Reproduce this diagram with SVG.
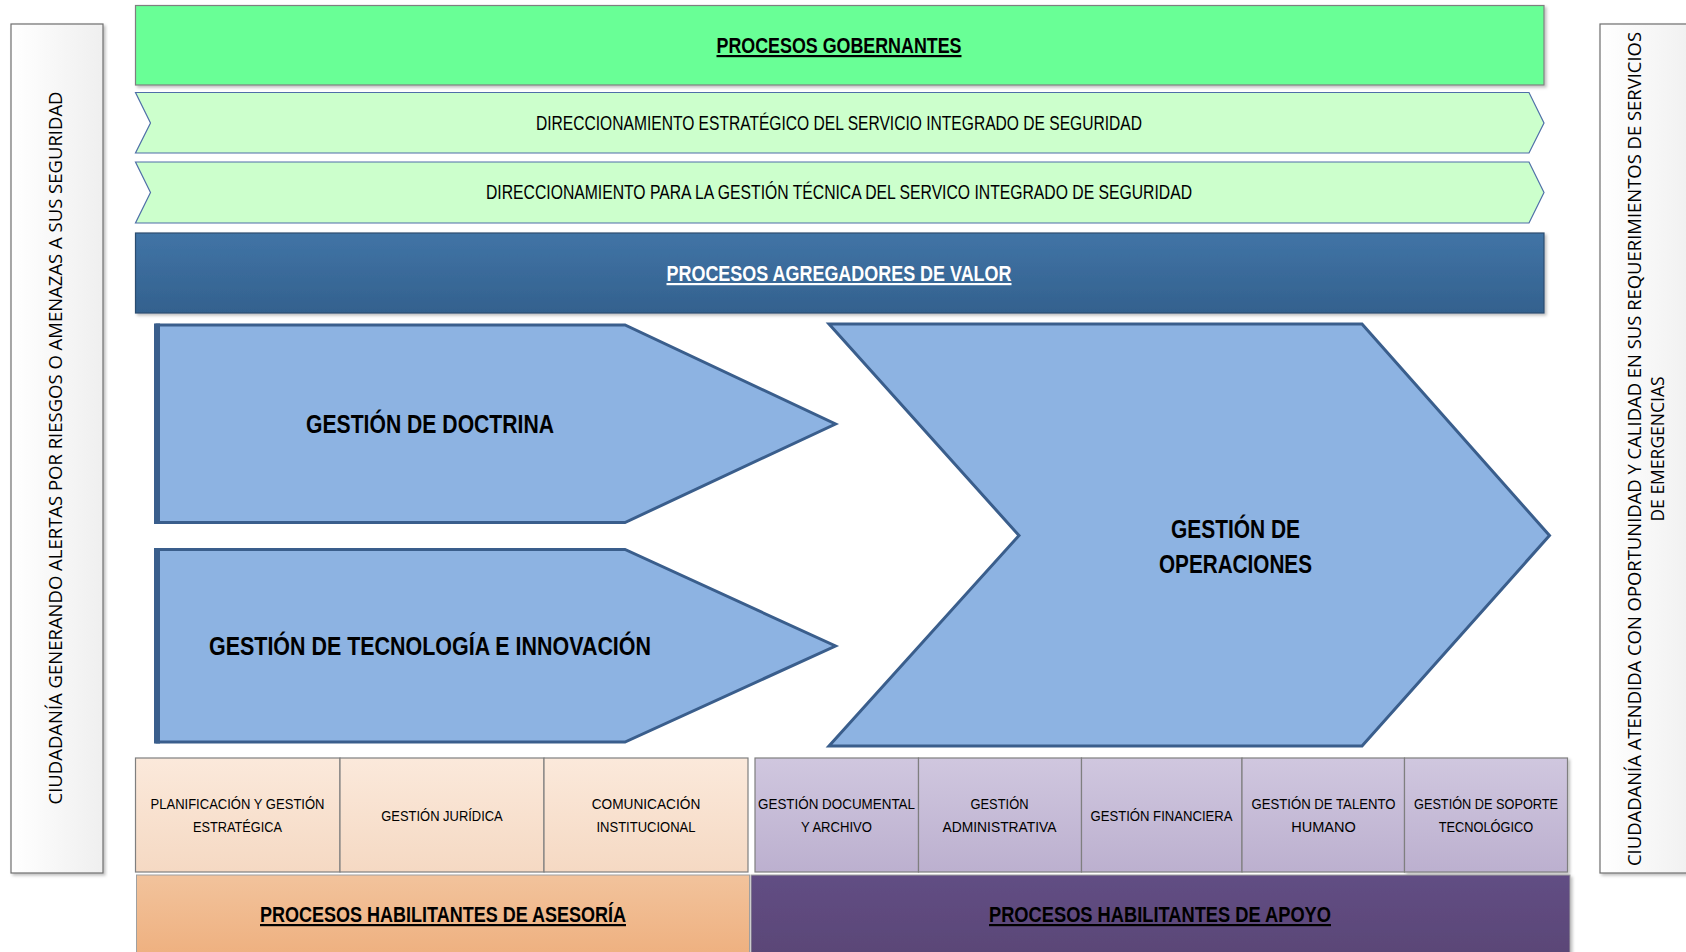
<svg xmlns="http://www.w3.org/2000/svg" width="1686" height="952" viewBox="0 0 1686 952">
<defs>
<linearGradient id="gSide" x1="0" y1="0" x2="1" y2="0"><stop offset="0" stop-color="#ffffff"/><stop offset="1" stop-color="#efefef"/></linearGradient>
<linearGradient id="gBlue" x1="0" y1="0" x2="0" y2="1"><stop offset="0" stop-color="#4174a6"/><stop offset="1" stop-color="#33618e"/></linearGradient>
<linearGradient id="gOr" x1="0" y1="0" x2="0" y2="1"><stop offset="0" stop-color="#fbe9db"/><stop offset="1" stop-color="#f5d9c3"/></linearGradient>
<linearGradient id="gPu" x1="0" y1="0" x2="0" y2="1"><stop offset="0" stop-color="#d0c7df"/><stop offset="1" stop-color="#bcb0cf"/></linearGradient>
<linearGradient id="gOrBar" x1="0" y1="0" x2="0" y2="1"><stop offset="0" stop-color="#f2c39c"/><stop offset="1" stop-color="#eeae7c"/></linearGradient>
<linearGradient id="gPuBar" x1="0" y1="0" x2="0" y2="1"><stop offset="0" stop-color="#624e84"/><stop offset="1" stop-color="#594575"/></linearGradient>
<filter id="sh" x="-5%" y="-5%" width="110%" height="115%"><feDropShadow dx="2" dy="2" stdDeviation="1.5" flood-color="#000" flood-opacity="0.25"/></filter>
</defs>
<style>
.t{font-family:"Liberation Sans",Arial,sans-serif;fill:#000;text-anchor:middle}
.b{font-weight:bold}
.u{text-decoration:underline}
.side{font-family:"Open Sans","DejaVu Sans",sans-serif;font-size:17.5px;fill:#000;text-anchor:middle}
.cell{stroke:#7f7f7f;stroke-width:1.2}
.arrow{fill:#8db3e2;stroke:#3a5e8c;stroke-width:3;stroke-linejoin:miter}
.chev{fill:#ccffcc;stroke:#4f6fa8;stroke-width:1.2}
.ct{font-size:15px}
</style>
<g id="left-panel">
<rect x="11" y="24" width="92" height="849" fill="url(#gSide)" stroke="#6e6e6e" stroke-width="1.2" filter="url(#sh)"/>
<text class="side" transform="translate(56,448) rotate(-90)" y="6.3" textLength="713" lengthAdjust="spacingAndGlyphs">CIUDADANÍA GENERANDO ALERTAS POR RIESGOS O AMENAZAS A SUS SEGURIDAD</text>
</g>
<g id="right-panel">
<rect x="1600" y="24" width="100" height="849" fill="url(#gSide)" stroke="#6e6e6e" stroke-width="1.2" filter="url(#sh)"/>
<text class="side" transform="translate(1634.5,449) rotate(-90)" y="6.3" textLength="834" lengthAdjust="spacingAndGlyphs">CIUDADANÍA ATENDIDA CON OPORTUNIDAD Y CALIDAD EN SUS REQUERIMIENTOS DE SERVICIOS</text>
<text class="side" transform="translate(1658,449) rotate(-90)" y="6.3">DE EMERGENCIAS</text>
</g>
<g id="procesos-gobernantes">
<rect x="135.5" y="5.5" width="1408.5" height="79.5" fill="#69ff96" stroke="#7f7f7f" stroke-width="1.2" filter="url(#sh)"/>
<text class="t b u" x="839" y="53" font-size="22" textLength="245" lengthAdjust="spacingAndGlyphs">PROCESOS GOBERNANTES</text>
</g>
<g id="direccionamiento-estrategico">
<polygon class="chev" points="135.5,92.5 1529,92.5 1544,123 1529,153 135.5,153 150.5,123"/>
<text class="t" x="839" y="129.5" font-size="19.5" textLength="606" lengthAdjust="spacingAndGlyphs">DIRECCIONAMIENTO ESTRATÉGICO DEL SERVICIO INTEGRADO DE SEGURIDAD</text>
</g>
<g id="direccionamiento-tecnico">
<polygon class="chev" points="135.5,162 1529,162 1544,192.5 1529,223 135.5,223 150.5,192.5"/>
<text class="t" x="839" y="199" font-size="19.5" textLength="706" lengthAdjust="spacingAndGlyphs">DIRECCIONAMIENTO PARA LA GESTIÓN TÉCNICA DEL SERVICO INTEGRADO DE SEGURIDAD</text>
</g>
<g id="procesos-agregadores">
<rect x="135.5" y="233" width="1408.5" height="80" fill="url(#gBlue)" stroke="#2c4d70" stroke-width="1.2" filter="url(#sh)"/>
<text class="t b u" x="839" y="281" font-size="22" style="fill:#ffffff" textLength="345" lengthAdjust="spacingAndGlyphs">PROCESOS AGREGADORES DE VALOR</text>
</g>
<g id="gestion-doctrina">
<polygon class="arrow" points="157,325 625,325 835.5,424 625,522.5 157,522.5"/>
<line x1="157" y1="323.5" x2="157" y2="524" stroke="#3a5e8c" stroke-width="6"/>
<text class="t b" x="430" y="433" font-size="25" textLength="248" lengthAdjust="spacingAndGlyphs">GESTIÓN DE DOCTRINA</text>
</g>
<g id="gestion-tecnologia">
<polygon class="arrow" points="157,549.5 625,549.5 835.5,646 625,742 157,742"/>
<line x1="157" y1="548" x2="157" y2="743.5" stroke="#3a5e8c" stroke-width="6"/>
<text class="t b" x="430" y="655" font-size="25" textLength="442" lengthAdjust="spacingAndGlyphs">GESTIÓN DE TECNOLOGÍA E INNOVACIÓN</text>
</g>
<g id="gestion-operaciones">
<polygon class="arrow" points="829,324 1362,324 1549.5,535.5 1362,746 829,746 1019,535.5"/>
<text class="t b" x="1235.5" y="538" font-size="25" textLength="129" lengthAdjust="spacingAndGlyphs">GESTIÓN DE</text>
<text class="t b" x="1235.5" y="572.5" font-size="25" textLength="153" lengthAdjust="spacingAndGlyphs">OPERACIONES</text>
</g>
<g id="planificacion">
<rect class="cell" x="135.5" y="758" width="204.5" height="114" fill="url(#gOr)"/>
<text class="t ct" x="237.5" y="808.5" textLength="174" lengthAdjust="spacingAndGlyphs">PLANIFICACIÓN Y GESTIÓN</text>
<text class="t ct" x="237.5" y="831.5" textLength="89" lengthAdjust="spacingAndGlyphs">ESTRATÉGICA</text>
</g>
<g id="juridica">
<rect class="cell" x="340" y="758" width="204" height="114" fill="url(#gOr)"/>
<text class="t ct" x="442" y="820.5" textLength="121.5" lengthAdjust="spacingAndGlyphs">GESTIÓN JURÍDICA</text>
</g>
<g id="comunicacion">
<rect class="cell" x="544" y="758" width="204" height="114" fill="url(#gOr)"/>
<text class="t ct" x="646" y="808.5" textLength="108.6" lengthAdjust="spacingAndGlyphs">COMUNICACIÓN</text>
<text class="t ct" x="646" y="831.5" textLength="99" lengthAdjust="spacingAndGlyphs">INSTITUCIONAL</text>
</g>
<g id="documental">
<rect class="cell" x="755" y="758" width="163.5" height="114" fill="url(#gPu)"/>
<text class="t ct" x="836.5" y="808.5" textLength="157" lengthAdjust="spacingAndGlyphs">GESTIÓN DOCUMENTAL</text>
<text class="t ct" x="836.5" y="831.5" textLength="71" lengthAdjust="spacingAndGlyphs">Y ARCHIVO</text>
</g>
<g id="administrativa">
<rect class="cell" x="918.5" y="758" width="163" height="114" fill="url(#gPu)"/>
<text class="t ct" x="999.5" y="808.5" textLength="58" lengthAdjust="spacingAndGlyphs">GESTIÓN</text>
<text class="t ct" x="999.5" y="831.5" textLength="114" lengthAdjust="spacingAndGlyphs">ADMINISTRATIVA</text>
</g>
<g id="financiera">
<rect class="cell" x="1081.5" y="758" width="160.5" height="114" fill="url(#gPu)"/>
<text class="t ct" x="1161.5" y="820.5" textLength="142" lengthAdjust="spacingAndGlyphs">GESTIÓN FINANCIERA</text>
</g>
<g id="talento-humano">
<rect class="cell" x="1242" y="758" width="162.5" height="114" fill="url(#gPu)"/>
<text class="t ct" x="1323.5" y="808.5" textLength="144" lengthAdjust="spacingAndGlyphs">GESTIÓN DE TALENTO</text>
<text class="t ct" x="1323.5" y="831.5" textLength="64.5" lengthAdjust="spacingAndGlyphs">HUMANO</text>
</g>
<g id="soporte-tecnologico">
<rect class="cell" x="1404.5" y="758" width="163" height="114" fill="url(#gPu)" filter="url(#sh)"/>
<text class="t ct" x="1486" y="808.5" textLength="144" lengthAdjust="spacingAndGlyphs">GESTIÓN DE SOPORTE</text>
<text class="t ct" x="1486" y="831.5" textLength="94.6" lengthAdjust="spacingAndGlyphs">TECNOLÓGICO</text>
</g>
<g id="habilitantes-asesoria">
<rect x="136.5" y="875" width="613" height="90" fill="url(#gOrBar)" stroke="#a0a0a0" stroke-width="1"/>
<text class="t b u" x="443" y="922" font-size="22" textLength="366" lengthAdjust="spacingAndGlyphs">PROCESOS HABILITANTES DE ASESORÍA</text>
</g>
<g id="habilitantes-apoyo">
<rect x="751" y="875" width="819" height="90" fill="url(#gPuBar)" stroke="#a0a0a0" stroke-width="1" filter="url(#sh)"/>
<text class="t b u" x="1160" y="922" font-size="22" textLength="342" lengthAdjust="spacingAndGlyphs">PROCESOS HABILITANTES DE APOYO</text>
</g>
<g id="connectors"/>
</svg>
